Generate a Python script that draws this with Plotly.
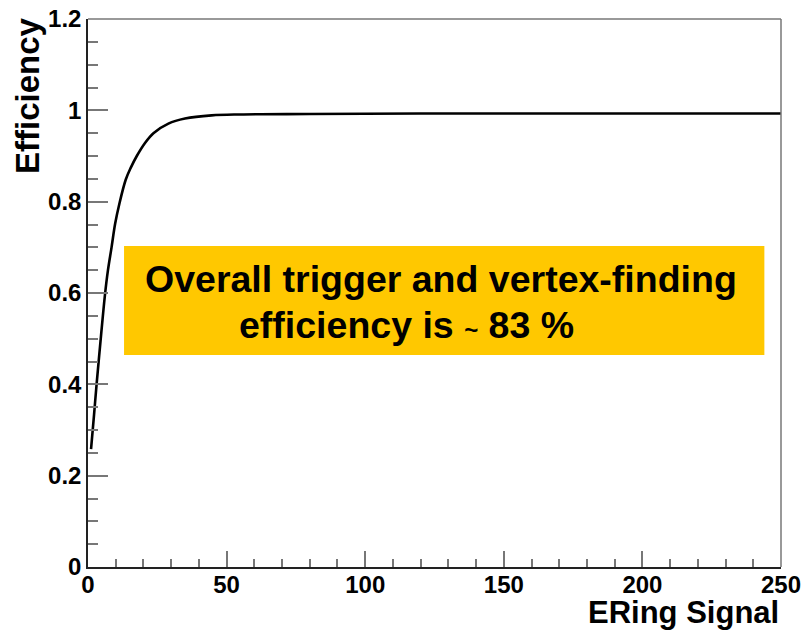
import plotly.graph_objects as go

# Efficiency turn-on curve versus ERing signal
ering_signal = [1.1, 2.2, 3.1, 4.6, 6.1, 7.2, 8.5, 9.8, 11.3, 13.6, 15.4, 17.6, 20.5, 23.6,
                29.0, 35.0, 44.6, 55.0, 80.0, 120.0, 180.0, 250.0]
efficiency = [0.258, 0.335, 0.40, 0.50, 0.595, 0.65, 0.70, 0.752, 0.795, 0.848, 0.874, 0.90, 0.928, 0.95,
              0.971, 0.982, 0.989, 0.991, 0.992, 0.993, 0.993, 0.993]

x_ticks = [0, 50, 100, 150, 200, 250]
y_ticks = [0, 0.2, 0.4, 0.6, 0.8, 1.0, 1.2]
y_tick_text = ["0", "0.2", "0.4", "0.6", "0.8", "1", "1.2"]

note_line1 = "Overall trigger and vertex-finding"
note_line2 = "efficiency is <span style='font-size:24px'>~</span> 83 %"

FONT = "Liberation Sans, Arial, Helvetica, sans-serif"

fig = go.Figure()
fig.add_trace(go.Scatter(
    x=ering_signal, y=efficiency, mode="lines",
    line=dict(color="black", width=2.6, shape="spline", smoothing=1.0),
    hoverinfo="skip", showlegend=False,
))

fig.update_layout(
    width=808, height=631,
    margin=dict(l=88, r=27, t=19, b=64),
    paper_bgcolor="white", plot_bgcolor="white",
    font=dict(family=FONT, color="black"),
    showlegend=False,
)

fig.update_xaxes(
    range=[0, 250], showgrid=False, zeroline=False, automargin=False,
    showline=True, linecolor="#222", linewidth=1.5,
    tickmode="array", tickvals=x_ticks, ticktext=[str(v) for v in x_ticks],
    ticks="inside", ticklen=16, tickcolor="#777", tickwidth=1.5,
    ticklabelstandoff=-5,
    minor=dict(dtick=10, ticks="inside", ticklen=8, tickcolor="#777", tickwidth=1.5),
    tickfont=dict(size=24, family=FONT, weight="bold"),
)
fig.update_yaxes(
    range=[0, 1.2], showgrid=False, zeroline=False, automargin=False,
    showline=True, linecolor="#222", linewidth=1.5,
    tickmode="array", tickvals=y_ticks, ticktext=y_tick_text,
    ticks="inside", ticklen=20, tickcolor="#777", tickwidth=1.5,
    minor=dict(dtick=0.05, ticks="inside", ticklen=10, tickcolor="#777", tickwidth=1.5),
    tickfont=dict(size=24, family=FONT, weight="bold"),
)

# Top and right frame edges in lighter grey
fig.add_shape(type="line", xref="paper", yref="paper", x0=0, x1=1, y0=1, y1=1,
              line=dict(color="#777", width=1.5))
fig.add_shape(type="line", xref="paper", yref="paper", x0=1, x1=1, y0=0, y1=1,
              line=dict(color="#777", width=1.5))

# Highlight box with the overall efficiency note
fig.add_shape(type="rect", xref="x", yref="y", x0=13, x1=244, y0=0.464, y1=0.703,
              fillcolor="#FFC800", line=dict(width=0), layer="above")
fig.add_annotation(x=19.8, y=0.631, xref="x", yref="y", text=note_line1,
                   showarrow=False, xanchor="left", yanchor="middle",
                   font=dict(size=37.5, family=FONT, weight="bold", color="black"))
fig.add_annotation(x=53.8, y=0.529, xref="x", yref="y", text=note_line2,
                   showarrow=False, xanchor="left", yanchor="middle",
                   font=dict(size=37.5, family=FONT, weight="bold", color="black"))

# Axis titles, aligned to the axis ends
fig.add_annotation(x=1, y=0, xref="paper", yref="paper", text="ERing Signal",
                   showarrow=False, xanchor="right", yanchor="top", yshift=-26,
                   font=dict(size=31, family=FONT, weight="bold"))
fig.add_annotation(x=0, y=1, xref="paper", yref="paper", text="Efficiency",
                   showarrow=False, textangle=-90, xanchor="right", yanchor="top",
                   xshift=-40, yshift=4,
                   font=dict(size=33, family=FONT, weight="bold"))

fig.write_html("out.html")
